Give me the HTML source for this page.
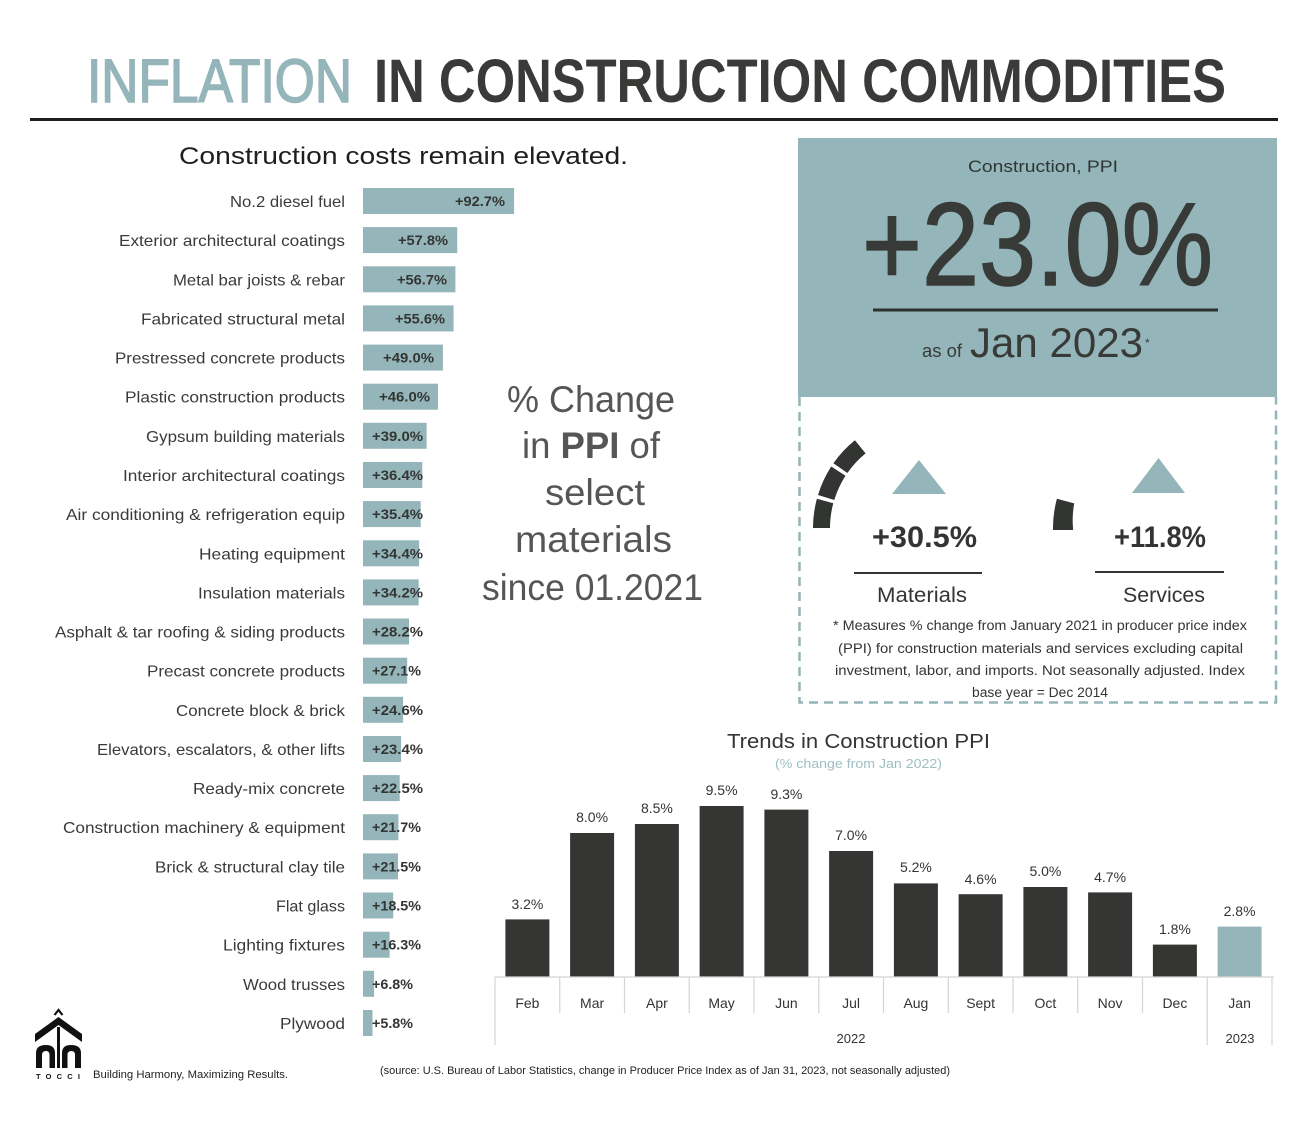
<!DOCTYPE html>
<html>
<head>
<meta charset="utf-8">
<style>
html,body{margin:0;padding:0;background:#fff;}
svg{display:block;}
text{font-family:"Liberation Sans",sans-serif;}
</style>
</head>
<body>
<svg width="1309" height="1122" viewBox="0 0 1309 1122" xmlns="http://www.w3.org/2000/svg">
<rect width="1309" height="1122" fill="#fff"/>

<!-- Title -->
<text x="87" y="102" font-size="61" fill="#94b5b9" stroke="#94b5b9" stroke-width="1.6" textLength="265" lengthAdjust="spacingAndGlyphs">INFLATION</text>
<text x="374" y="102" font-size="61" font-weight="bold" fill="#3a3b39" textLength="852" lengthAdjust="spacingAndGlyphs">IN CONSTRUCTION COMMODITIES</text>
<rect x="30" y="118" width="1248" height="3" fill="#1e1e1e"/>

<!-- Subtitle -->
<text x="179" y="164" font-size="24" fill="#1e1e1e" textLength="449" lengthAdjust="spacingAndGlyphs">Construction costs remain elevated.</text>

<!-- Left bar chart -->
<g font-size="16" fill="#3a3a3a" text-anchor="end">
<text x="345" y="207" textLength="115" lengthAdjust="spacingAndGlyphs">No.2 diesel fuel</text>
<text x="345" y="246.1" textLength="226" lengthAdjust="spacingAndGlyphs">Exterior architectural coatings</text>
<text x="345" y="285.3" textLength="172" lengthAdjust="spacingAndGlyphs">Metal bar joists &amp; rebar</text>
<text x="345" y="324.4" textLength="204" lengthAdjust="spacingAndGlyphs">Fabricated structural metal</text>
<text x="345" y="363.6" textLength="230" lengthAdjust="spacingAndGlyphs">Prestressed concrete products</text>
<text x="345" y="402.7" textLength="220" lengthAdjust="spacingAndGlyphs">Plastic construction products</text>
<text x="345" y="441.8" textLength="199" lengthAdjust="spacingAndGlyphs">Gypsum building materials</text>
<text x="345" y="481" textLength="222" lengthAdjust="spacingAndGlyphs">Interior architectural coatings</text>
<text x="345" y="520.1" textLength="279" lengthAdjust="spacingAndGlyphs">Air conditioning &amp; refrigeration equip</text>
<text x="345" y="559.3" textLength="146" lengthAdjust="spacingAndGlyphs">Heating equipment</text>
<text x="345" y="598.4" textLength="147" lengthAdjust="spacingAndGlyphs">Insulation materials</text>
<text x="345" y="637.5" textLength="290" lengthAdjust="spacingAndGlyphs">Asphalt &amp; tar roofing &amp; siding products</text>
<text x="345" y="676.7" textLength="198" lengthAdjust="spacingAndGlyphs">Precast concrete products</text>
<text x="345" y="715.8" textLength="169" lengthAdjust="spacingAndGlyphs">Concrete block &amp; brick</text>
<text x="345" y="755" textLength="248" lengthAdjust="spacingAndGlyphs">Elevators, escalators, &amp; other lifts</text>
<text x="345" y="794.1" textLength="152" lengthAdjust="spacingAndGlyphs">Ready-mix concrete</text>
<text x="345" y="833.2" textLength="282" lengthAdjust="spacingAndGlyphs">Construction machinery &amp; equipment</text>
<text x="345" y="872.4" textLength="190" lengthAdjust="spacingAndGlyphs">Brick &amp; structural clay tile</text>
<text x="345" y="911.5" textLength="69" lengthAdjust="spacingAndGlyphs">Flat glass</text>
<text x="345" y="950.7" textLength="122" lengthAdjust="spacingAndGlyphs">Lighting fixtures</text>
<text x="345" y="989.8" textLength="102" lengthAdjust="spacingAndGlyphs">Wood trusses</text>
<text x="345" y="1029" textLength="65" lengthAdjust="spacingAndGlyphs">Plywood</text>
</g>

<g fill="#94b5b9">
<rect x="363" y="188" width="151.1" height="26"/>
<rect x="363" y="227.1" width="94.2" height="26"/>
<rect x="363" y="266.3" width="92.4" height="26"/>
<rect x="363" y="305.4" width="90.6" height="26"/>
<rect x="363" y="344.6" width="79.9" height="26"/>
<rect x="363" y="383.7" width="75.0" height="26"/>
<rect x="363" y="422.8" width="63.6" height="26"/>
<rect x="363" y="462" width="59.3" height="26"/>
<rect x="363" y="501.1" width="57.7" height="26"/>
<rect x="363" y="540.3" width="56.1" height="26"/>
<rect x="363" y="579.4" width="55.7" height="26"/>
<rect x="363" y="618.5" width="46.0" height="26"/>
<rect x="363" y="657.7" width="44.2" height="26"/>
<rect x="363" y="696.8" width="40.1" height="26"/>
<rect x="363" y="736" width="38.1" height="26"/>
<rect x="363" y="775.1" width="36.7" height="26"/>
<rect x="363" y="814.2" width="35.4" height="26"/>
<rect x="363" y="853.4" width="35.0" height="26"/>
<rect x="363" y="892.5" width="30.2" height="26"/>
<rect x="363" y="931.7" width="26.6" height="26"/>
<rect x="363" y="970.8" width="11.1" height="26"/>
<rect x="363" y="1010" width="9.5" height="26"/>
</g>

<g font-size="14" font-weight="bold" fill="#333532">
<text x="505" y="206" text-anchor="end" textLength="50" lengthAdjust="spacingAndGlyphs">+92.7%</text>
<text x="448" y="245.1" text-anchor="end" textLength="50" lengthAdjust="spacingAndGlyphs">+57.8%</text>
<text x="447" y="284.3" text-anchor="end" textLength="50" lengthAdjust="spacingAndGlyphs">+56.7%</text>
<text x="445" y="323.4" text-anchor="end" textLength="50" lengthAdjust="spacingAndGlyphs">+55.6%</text>
<text x="434" y="362.6" text-anchor="end" textLength="51" lengthAdjust="spacingAndGlyphs">+49.0%</text>
<text x="430" y="401.7" text-anchor="end" textLength="51" lengthAdjust="spacingAndGlyphs">+46.0%</text>
<text x="372" y="440.8" textLength="51" lengthAdjust="spacingAndGlyphs">+39.0%</text>
<text x="372" y="480" textLength="51" lengthAdjust="spacingAndGlyphs">+36.4%</text>
<text x="372" y="519.1" textLength="51" lengthAdjust="spacingAndGlyphs">+35.4%</text>
<text x="372" y="558.3" textLength="51" lengthAdjust="spacingAndGlyphs">+34.4%</text>
<text x="372" y="597.4" textLength="51" lengthAdjust="spacingAndGlyphs">+34.2%</text>
<text x="372" y="636.5" textLength="51" lengthAdjust="spacingAndGlyphs">+28.2%</text>
<text x="372" y="675.7" textLength="49" lengthAdjust="spacingAndGlyphs">+27.1%</text>
<text x="372" y="714.8" textLength="51" lengthAdjust="spacingAndGlyphs">+24.6%</text>
<text x="372" y="754" textLength="51" lengthAdjust="spacingAndGlyphs">+23.4%</text>
<text x="372" y="793.1" textLength="51" lengthAdjust="spacingAndGlyphs">+22.5%</text>
<text x="372" y="832.2" textLength="49" lengthAdjust="spacingAndGlyphs">+21.7%</text>
<text x="372" y="871.4" textLength="49" lengthAdjust="spacingAndGlyphs">+21.5%</text>
<text x="372" y="910.5" textLength="49" lengthAdjust="spacingAndGlyphs">+18.5%</text>
<text x="372" y="949.7" textLength="49" lengthAdjust="spacingAndGlyphs">+16.3%</text>
<text x="372" y="988.8" textLength="41" lengthAdjust="spacingAndGlyphs">+6.8%</text>
<text x="372" y="1028" textLength="41" lengthAdjust="spacingAndGlyphs">+5.8%</text>
</g>

<!-- % Change text -->
<g font-size="37" fill="#555655">
<text x="507" y="412" textLength="168" lengthAdjust="spacingAndGlyphs">% Change</text>
<text x="522" y="458" textLength="138" lengthAdjust="spacingAndGlyphs">in <tspan font-weight="bold">PPI</tspan> of</text>
<text x="545" y="505" textLength="100" lengthAdjust="spacingAndGlyphs">select</text>
<text x="515" y="552" textLength="157" lengthAdjust="spacingAndGlyphs">materials</text>
<text x="482" y="600" textLength="221" lengthAdjust="spacingAndGlyphs">since 01.2021</text>
</g>

<!-- Top right box -->
<rect x="798" y="138" width="479" height="259" fill="#94b5b9"/>
<text x="968" y="172" font-size="17" fill="#2f3532" textLength="150" lengthAdjust="spacingAndGlyphs">Construction, PPI</text>
<text x="862" y="285" font-size="118" fill="#383a37" stroke="#383a37" stroke-width="1.5" textLength="351" lengthAdjust="spacingAndGlyphs">+23.0%</text>
<rect x="873" y="308.5" width="345" height="3" fill="#2e302d"/>
<text x="922" y="357" font-size="18" fill="#383a37" textLength="40" lengthAdjust="spacingAndGlyphs">as of</text>
<text x="970" y="357" font-size="42" fill="#383a37" textLength="173" lengthAdjust="spacingAndGlyphs">Jan 2023</text>
<text x="1145" y="347" font-size="12" fill="#383a37">*</text>

<!-- Dashed box -->
<path d="M799.5 397 V702.5 H1276 V397" fill="none" stroke="#94b5b9" stroke-width="2.5" stroke-dasharray="9 6"/>

<!-- Gauges -->
<g fill="#333533">
<path d="M813 528 A113 113 0 0 1 816.9 498.8 L833.3 503.2 A96 96 0 0 0 830 528 Z"/>
<path d="M818.0 495.0 A113 113 0 0 1 831.2 466.5 L845.5 475.8 A96 96 0 0 0 834.3 500.0 Z"/>
<path d="M833.4 463.2 A113 113 0 0 1 854.9 440.2 L865.6 453.4 A96 96 0 0 0 847.4 473.0 Z"/>
<path d="M1053 530 V528 A113 113 0 0 1 1056.9 498.8 L1074.2 503.4 A93 93 0 0 0 1073 528 V530 Z"/>
</g>
<polygon points="892,494 919,460 946,494" fill="#94b5b9"/>
<polygon points="1132,493 1158.5,458 1185,493" fill="#94b5b9"/>
<text x="872" y="547" font-size="30" font-weight="bold" fill="#333532" textLength="105" lengthAdjust="spacingAndGlyphs">+30.5%</text>
<text x="1114" y="547" font-size="30" font-weight="bold" fill="#333532" textLength="92" lengthAdjust="spacingAndGlyphs">+11.8%</text>
<rect x="854" y="572" width="128" height="2" fill="#333532"/>
<rect x="1095" y="571" width="129" height="2" fill="#333532"/>
<text x="877" y="602" font-size="21" fill="#333532" textLength="90" lengthAdjust="spacingAndGlyphs">Materials</text>
<text x="1123" y="602" font-size="21" fill="#333532" textLength="82" lengthAdjust="spacingAndGlyphs">Services</text>

<g font-size="13.5" fill="#333532">
<text x="833" y="630" textLength="414" lengthAdjust="spacingAndGlyphs">* Measures % change from January 2021 in producer price index</text>
<text x="838" y="653" textLength="405" lengthAdjust="spacingAndGlyphs">(PPI) for construction materials and services excluding capital</text>
<text x="835" y="675" textLength="410" lengthAdjust="spacingAndGlyphs">investment, labor, and imports. Not seasonally adjusted. Index</text>
<text x="972" y="697" textLength="136" lengthAdjust="spacingAndGlyphs">base year = Dec 2014</text>
</g>

<!-- Bottom chart -->
<text x="727" y="748" font-size="20" fill="#333532" textLength="263" lengthAdjust="spacingAndGlyphs">Trends in Construction PPI</text>
<text x="775" y="768" font-size="12.5" fill="#9dbfc2" textLength="167" lengthAdjust="spacingAndGlyphs">(% change from Jan 2022)</text>

<g fill="#353633">
<rect x="505.4" y="919.4" width="44" height="57.6"/>
<rect x="570.1" y="833" width="44" height="144"/>
<rect x="634.9" y="824" width="44" height="153"/>
<rect x="699.6" y="806" width="44" height="171"/>
<rect x="764.4" y="809.6" width="44" height="167.4"/>
<rect x="829.1" y="851" width="44" height="126"/>
<rect x="893.9" y="883.4" width="44" height="93.6"/>
<rect x="958.6" y="894.2" width="44" height="82.8"/>
<rect x="1023.4" y="887" width="44" height="90"/>
<rect x="1088.1" y="892.4" width="44" height="84.6"/>
<rect x="1152.9" y="944.6" width="44" height="32.4"/>
</g>
<rect x="1217.6" y="926.6" width="44" height="50.4" fill="#94b5b9"/>

<g font-size="14" fill="#333532" text-anchor="middle">
<text x="527.4" y="909">3.2%</text>
<text x="592.1" y="822">8.0%</text>
<text x="656.9" y="813">8.5%</text>
<text x="721.6" y="795">9.5%</text>
<text x="786.4" y="799">9.3%</text>
<text x="851.1" y="840">7.0%</text>
<text x="915.9" y="872">5.2%</text>
<text x="980.6" y="884">4.6%</text>
<text x="1045.4" y="876">5.0%</text>
<text x="1110.1" y="882">4.7%</text>
<text x="1174.9" y="934">1.8%</text>
<text x="1239.6" y="916">2.8%</text>
</g>

<g stroke="#d4d4d4" stroke-width="1.2">
<line x1="495" y1="977" x2="1274" y2="977"/>
<line x1="495" y1="977" x2="495" y2="1045"/>
<line x1="559.75" y1="977" x2="559.75" y2="1013"/>
<line x1="624.5" y1="977" x2="624.5" y2="1013"/>
<line x1="689.25" y1="977" x2="689.25" y2="1013"/>
<line x1="754" y1="977" x2="754" y2="1013"/>
<line x1="818.75" y1="977" x2="818.75" y2="1013"/>
<line x1="883.5" y1="977" x2="883.5" y2="1013"/>
<line x1="948.25" y1="977" x2="948.25" y2="1013"/>
<line x1="1013" y1="977" x2="1013" y2="1013"/>
<line x1="1077.75" y1="977" x2="1077.75" y2="1013"/>
<line x1="1142.5" y1="977" x2="1142.5" y2="1013"/>
<line x1="1207.25" y1="977" x2="1207.25" y2="1045"/>
<line x1="1272" y1="977" x2="1272" y2="1045"/>
</g>

<g font-size="14" fill="#333532" text-anchor="middle">
<text x="527.4" y="1008">Feb</text>
<text x="592.1" y="1008">Mar</text>
<text x="656.9" y="1008">Apr</text>
<text x="721.6" y="1008">May</text>
<text x="786.4" y="1008">Jun</text>
<text x="851.1" y="1008">Jul</text>
<text x="915.9" y="1008">Aug</text>
<text x="980.6" y="1008">Sept</text>
<text x="1045.4" y="1008">Oct</text>
<text x="1110.1" y="1008">Nov</text>
<text x="1174.9" y="1008">Dec</text>
<text x="1239.6" y="1008">Jan</text>
<text x="851" y="1043" font-size="13">2022</text>
<text x="1240" y="1043" font-size="13">2023</text>
</g>

<!-- Source -->
<text x="380" y="1074" font-size="11" fill="#222" textLength="570" lengthAdjust="spacingAndGlyphs">(source: U.S. Bureau of Labor Statistics, change in Producer Price Index as of Jan 31, 2023, not seasonally adjusted)</text>

<!-- Logo -->
<g fill="#111">
<path d="M54.5 1015 L58.5 1010 L62.5 1015" stroke="#111" stroke-width="2.2" fill="none"/>
<polygon points="35,1034 58.5,1017 82,1034 82,1042 58.5,1025 35,1042"/>
<path d="M36 1068 V1053 Q36 1045 46 1045 Q55 1045 55 1053 V1068 H49.5 V1055 Q49.5 1051 46 1051 Q42 1051 42 1055 V1068 Z"/>
<path d="M62 1068 V1053 Q62 1045 71 1045 Q81 1045 81 1053 V1068 H75 V1055 Q75 1051 71.5 1051 Q67.5 1051 67.5 1055 V1068 Z"/>
<rect x="57" y="1027" width="3" height="41"/>
</g>
<text x="36" y="1079" font-size="7.5" font-weight="bold" fill="#111" textLength="44" lengthAdjust="spacing">TOCCI</text>
<text x="93" y="1078" font-size="11" fill="#222" textLength="195" lengthAdjust="spacingAndGlyphs">Building Harmony, Maximizing Results.</text>
</svg>
</body>
</html>
